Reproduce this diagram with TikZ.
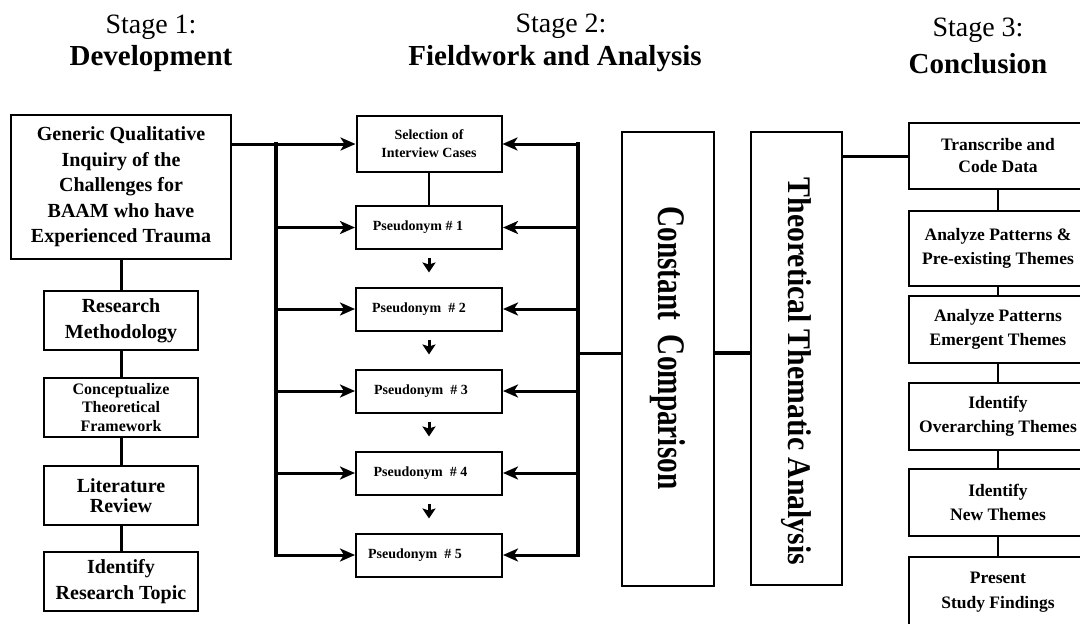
\documentclass[tikz,border=0pt]{standalone}
\usepackage{fontspec}
\usepackage{graphicx}
\setmainfont{Liberation Serif}
\usetikzlibrary{arrows.meta}

\begin{document}
\begin{tikzpicture}[x=1pt,y=-1pt,>={Stealth[length=15pt,width=13pt,inset=4pt]},
  box/.style={draw,line width=2pt,inner sep=0pt,align=center},
  txt/.style 2 args={font=\bfseries\fontsize{#1}{#2}\selectfont},
  bus/.style={line width=4pt,line cap=rect},
  link/.style={line width=3pt},
  feed/.style={->,line width=3pt},
  nextcase/.style={-{Stealth[length=10pt,width=13pt,inset=2pt]},line width=3pt,shorten <=8pt,shorten >=14pt}]
\useasboundingbox (0,0) rectangle (1080,624);
\clip (0,0) rectangle (1080,624);

% headings
\node[anchor=base,font=\fontsize{28}{30}\selectfont] (stageone) at (151,33) {Stage 1:};
\node[anchor=base,txt={29}{30}] (stageonename) at (151,65) {Development};
\node[anchor=base,font=\fontsize{28}{30}\selectfont] (stagetwo) at (561,32) {Stage 2:};
\node[anchor=base,txt={29}{30}] (stagetwoname) at (555,65) {Fieldwork and Analysis};
\node[anchor=base,font=\fontsize{28}{30}\selectfont] (stagethree) at (978,36) {Stage 3:};
\node[anchor=base,txt={29}{30}] (stagethreename) at (978,73) {Conclusion};

% stage 1
\node[box,txt={20}{25.5},minimum width=220pt,minimum height=144pt] (generic) at (121,187)
  {Generic Qualitative\\Inquiry of the\\Challenges for\\BAAM who have\\Experienced Trauma};
\node[box,txt={20}{26},minimum width=154pt,minimum height=59pt] (method) at (121,320.5) {Research\\Methodology};
\node[box,txt={16}{18.5},minimum width=154pt,minimum height=59pt] (concept) at (121,407.5) {Conceptualize\\Theoretical\\Framework};
\node[box,txt={20}{20.5},minimum width=154pt,minimum height=59pt] (litreview) at (121,495.5) {Literature\\Review};
\node[box,txt={20}{26},minimum width=154pt,minimum height=59pt] (topic) at (121,581.5) {Identify\\Research Topic};
\draw[link] (generic) -- (method);
\draw[link] (method) -- (concept);
\draw[link] (concept) -- (litreview);
\draw[link] (litreview) -- (topic);

% stage 2
\node[box,txt={14}{18},minimum width=145pt,minimum height=56pt] (selection) at (429,144) {Selection of\\Interview Cases};
\node[box,txt={14}{17},minimum width=146pt,minimum height=43pt] (pseudo1) at (429,227.5) {Pseudonym \# 1\hspace*{22pt}};
\node[box,txt={14}{17},minimum width=146pt,minimum height=43pt] (pseudo2) at (429,309) {Pseudonym~ \# 2\hspace*{20pt}};
\node[box,txt={14}{17},minimum width=146pt,minimum height=43pt] (pseudo3) at (429,391) {Pseudonym~ \# 3\hspace*{16pt}};
\node[box,txt={14}{17},minimum width=146pt,minimum height=43pt] (pseudo4) at (429,473) {Pseudonym~ \# 4\hspace*{17pt}};
\node[box,txt={14}{17},minimum width=146pt,minimum height=43pt] (pseudo5) at (429,555) {Pseudonym~ \# 5\hspace*{28pt}};
\draw[line width=2.5pt] (selection) -- (pseudo1);
\draw[nextcase] (pseudo1) -- (pseudo2);
\draw[nextcase] (pseudo2) -- (pseudo3);
\draw[nextcase] (pseudo3) -- (pseudo4);
\draw[nextcase] (pseudo4) -- (pseudo5);

% left bus
\coordinate (leftbus) at (276,144);
\draw[feed] (generic.east |- selection.west) -- (selection.west);
\draw[bus] (leftbus) -- (leftbus |- pseudo5.west);
\draw[feed] (leftbus |- pseudo1.west) -- (pseudo1.west);
\draw[feed] (leftbus |- pseudo2.west) -- (pseudo2.west);
\draw[feed] (leftbus |- pseudo3.west) -- (pseudo3.west);
\draw[feed] (leftbus |- pseudo4.west) -- (pseudo4.west);
\draw[feed] (leftbus |- pseudo5.west) -- (pseudo5.west);

% comparison and analysis
\node[box,txt={39}{40},minimum width=92pt,minimum height=454pt] (compare) at (668,359)
  {\rotatebox{-90}{\scalebox{0.75}[1]{Constant~~Comparison}\hspace*{22pt}}};
\node[box,txt={33}{34},minimum width=91pt,minimum height=453pt] (thematic) at (796.5,358.5)
  {\rotatebox{-90}{\hspace*{26pt}\scalebox{0.9}[1]{Theoretical Thematic Analysis}}};

% right bus
\coordinate (rightbus) at (578,144);
\draw[bus] (rightbus) -- (rightbus |- pseudo5.east);
\draw[feed] (rightbus) -- (selection.east);
\draw[feed] (rightbus |- pseudo1.east) -- (pseudo1.east);
\draw[feed] (rightbus |- pseudo2.east) -- (pseudo2.east);
\draw[feed] (rightbus |- pseudo3.east) -- (pseudo3.east);
\draw[feed] (rightbus |- pseudo4.east) -- (pseudo4.east);
\draw[feed] (rightbus |- pseudo5.east) -- (pseudo5.east);
\draw[link] (rightbus |- compare.west) ++(0,-6) coordinate (busout) -- (busout -| compare.west);
\draw[line width=3.5pt] ([yshift=6pt]compare.east) -- ([yshift=6pt]compare.east -| thematic.west);

% stage 3
\node[box,txt={17.5}{22},minimum width=178pt,minimum height=66pt] (transcribe) at (998,156) {Transcribe and\\Code Data};
\node[box,txt={17.5}{24},minimum width=178pt,minimum height=75pt] (preexist) at (998,248.5) {Analyze Patterns \&\\Pre-existing Themes};
\node[box,txt={17.5}{24},minimum width=178pt,minimum height=67pt] (emergent) at (998,329.5) {Analyze Patterns\\Emergent Themes};
\node[box,txt={17.5}{24},minimum width=178pt,minimum height=67pt] (overarch) at (998,416.5) {Identify\\Overarching Themes};
\node[box,txt={17.5}{24},minimum width=178pt,minimum height=67pt] (newthemes) at (998,502.5) {Identify\\New Themes};
\node[box,txt={17.5}{25},minimum width=178pt,minimum height=70pt] (findings) at (998,592) {Present\\Study Findings};
\draw[link] (thematic.east |- transcribe.west) -- (transcribe.west);
\draw[line width=2.5pt] (transcribe) -- (preexist);
\draw[line width=2.5pt] (preexist) -- (emergent);
\draw[line width=2.5pt] (emergent) -- (overarch);
\draw[line width=2.5pt] (overarch) -- (newthemes);
\draw[line width=2.5pt] (newthemes) -- (findings);
\end{tikzpicture}
\end{document}
